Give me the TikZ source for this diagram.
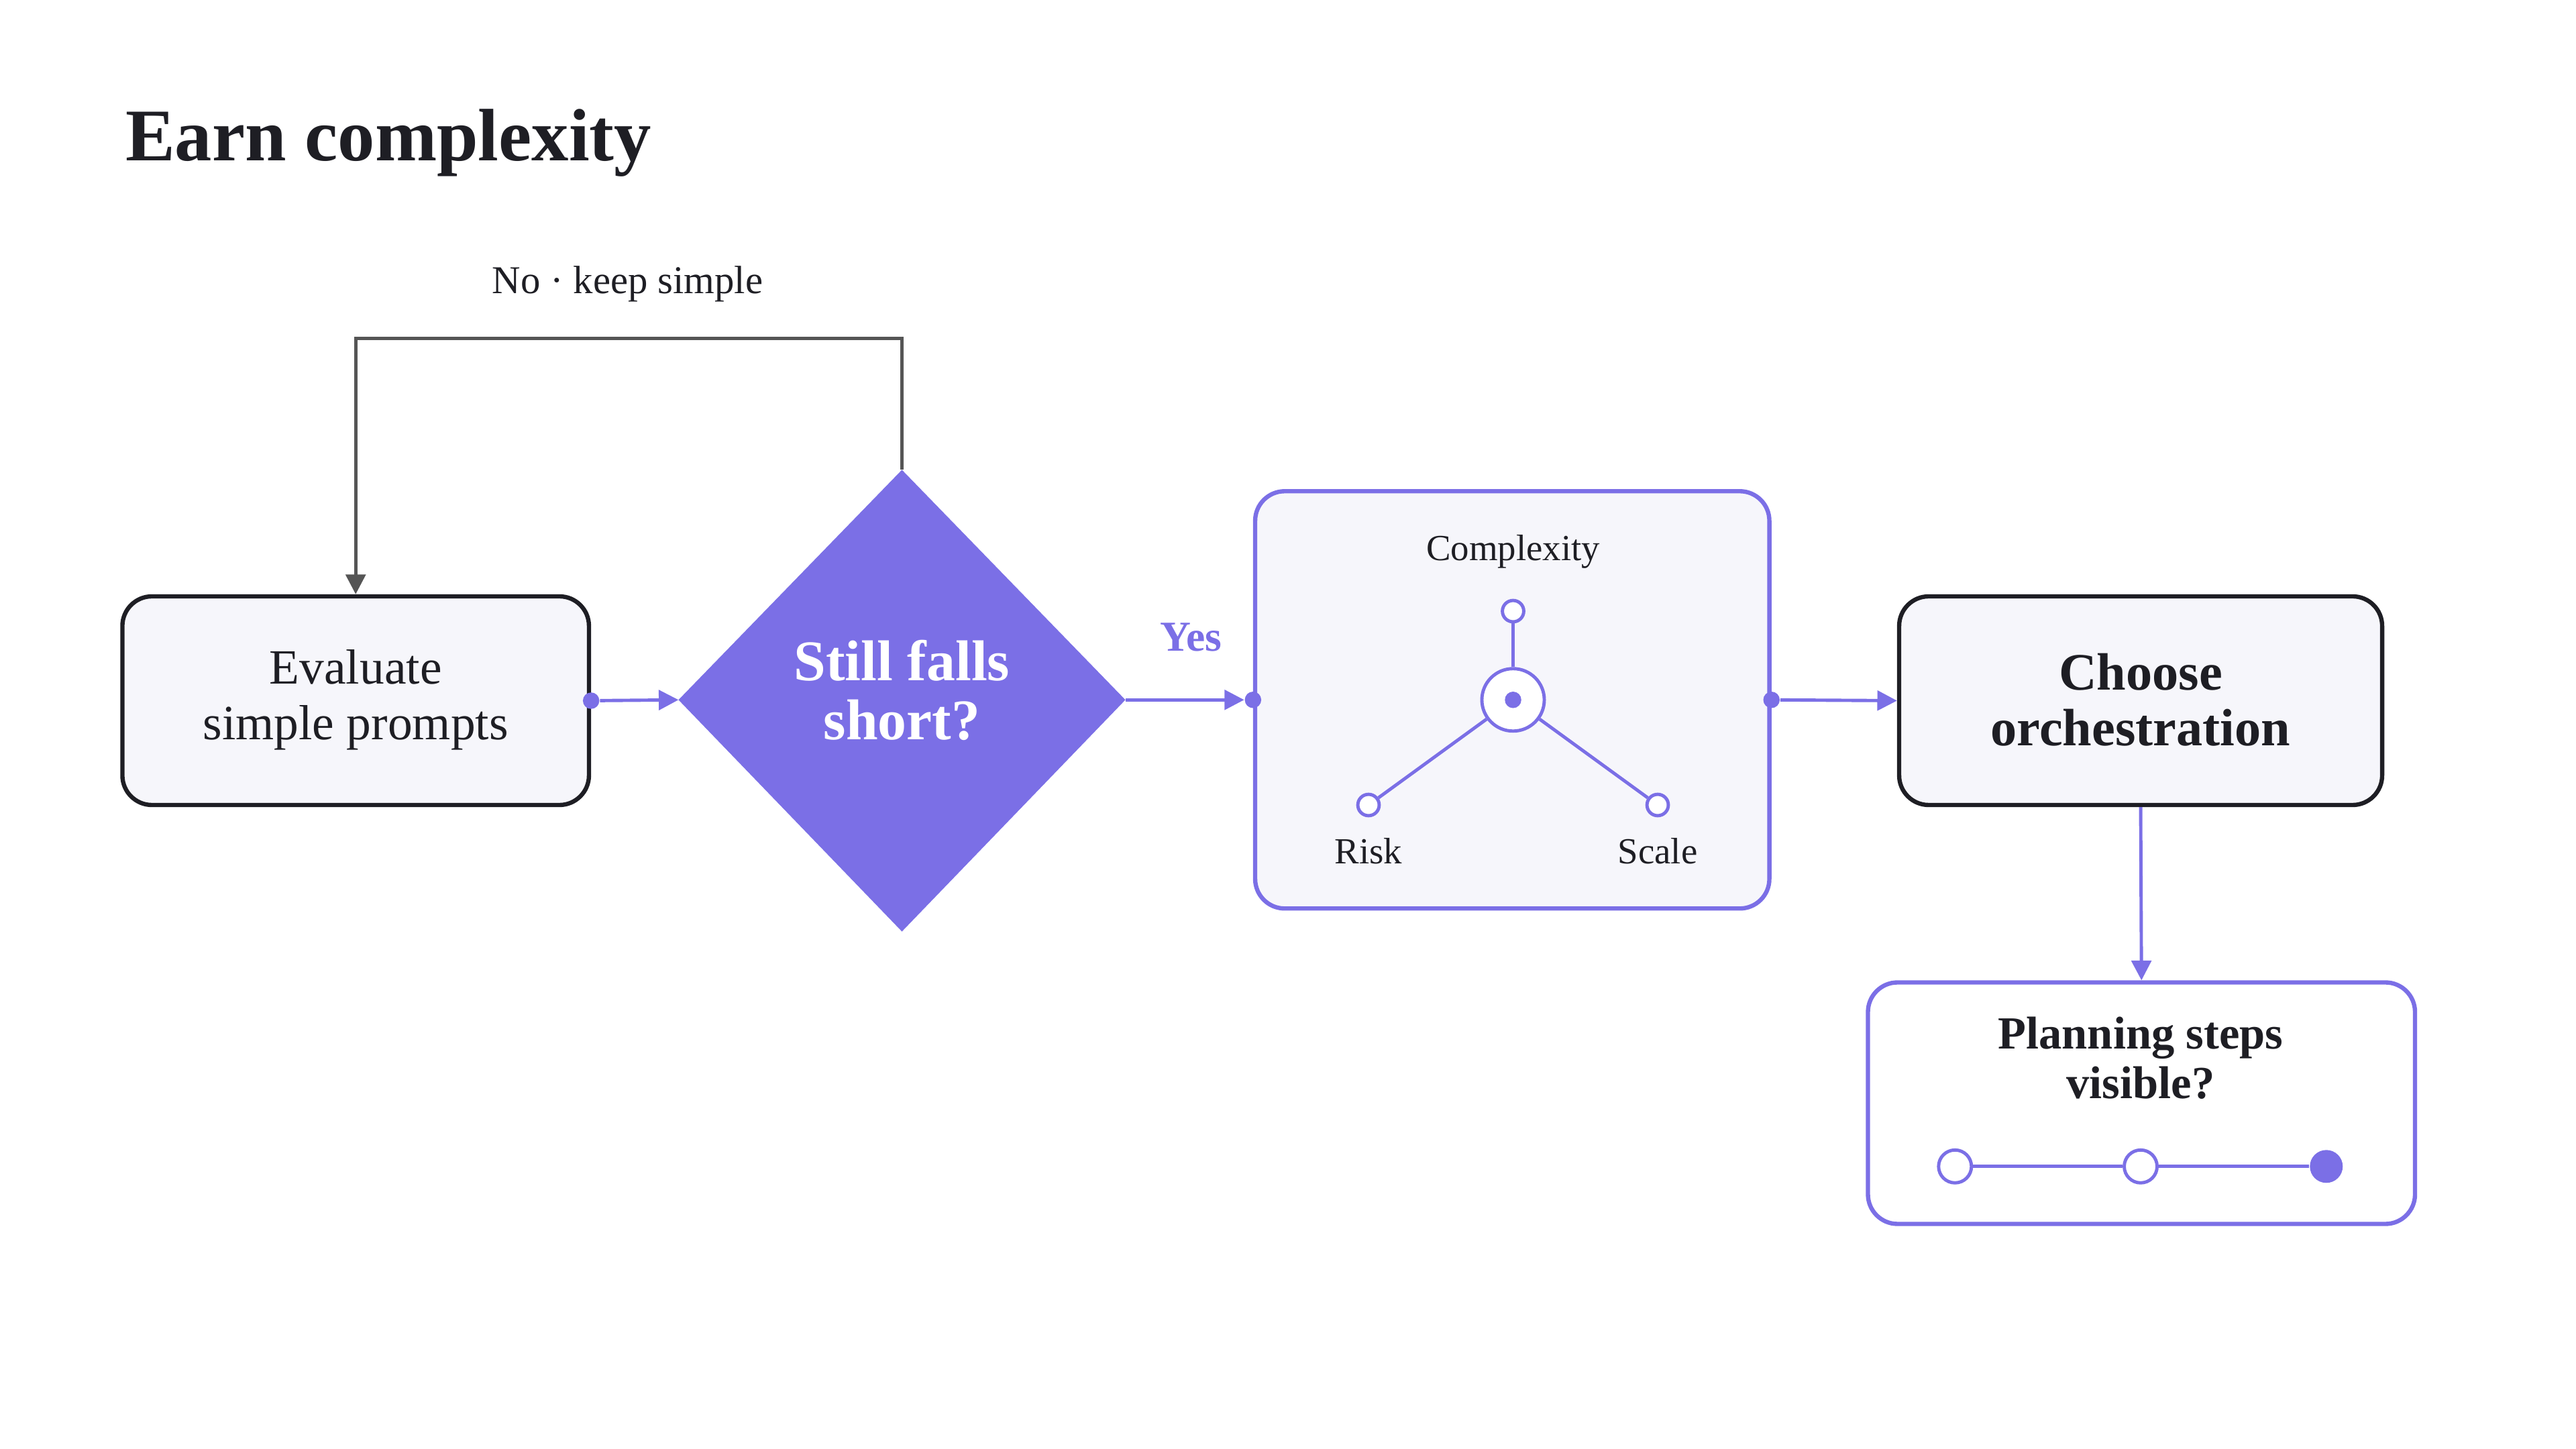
\documentclass[tikz,border=0pt]{standalone}
\usepackage{fontspec}
\setmainfont{Liberation Serif}
\usetikzlibrary{arrows.meta}
\definecolor{pur}{HTML}{7B6FE6}
\definecolor{pale}{HTML}{F6F6FB}
\definecolor{ink}{HTML}{1E1E24}
\definecolor{gry}{HTML}{555555}
\begin{document}
\begin{tikzpicture}[x=0.5pt,y=-0.5pt,
  box/.style={draw=ink,line width=1.3pt,rounded corners=9pt,fill=pale},
  pbox/.style={draw=pur,line width=1.3pt,rounded corners=9pt,fill=pale},
  txt/.style={font=\fontsize{15}{17}\selectfont,text=ink,align=center},
  btxt/.style={font=\fontsize{16}{17}\selectfont\bfseries,text=ink,align=center},
  pl/.style={draw=pur,line width=1pt},
  arr/.style={pl,-{Triangle[length=6pt,width=6pt]}},
  dot/.style={circle,fill=pur,inner sep=0,minimum size=5pt},
  hole/.style={circle,draw=pur,fill=white,line width=1pt,inner sep=0}]
\useasboundingbox (0,0) rectangle (1568,882);
\node[anchor=base west,font=\fontsize{22.6}{26}\selectfont\bfseries,text=ink,inner sep=0] (title) at (76,98) {Earn complexity};
% boxes
\node[box,minimum width=142pt,minimum height=63.5pt] (eval) at (216.5,426.5) {};
\node[txt] (evalt) at (216.5,426) {Evaluate\\simple prompts};
\fill[pur] (549,286) coordinate (dtop) -- (685,426) coordinate (dright) -- (549,567) -- (413,426) coordinate (dleft) -- cycle;
\node[font=\fontsize{17.5}{18}\selectfont\bfseries,text=white,align=center] (dt) at (549,420) {Still falls\\short?};
\node[pbox,minimum width=156.5pt,minimum height=127pt] (cx) at (920.5,426) {};
\node[box,minimum width=147pt,minimum height=63.5pt] (ch) at (1303,426.5) {};
\node[btxt] (cht) at (1303,426) {Choose\\orchestration};
\node[pbox,fill=white,minimum width=166.5pt,minimum height=73.5pt] (pl) at (1303.5,671.5) {};
\node[btxt,font=\fontsize{14}{15}\selectfont\bfseries] (plt) at (1303,644) {Planning steps\\visible?};
% eval -> diamond
\node[dot] (d1) at (eval.east) {};
\draw[arr] (d1) -- (dleft);
% loop
\coordinate (l1) at (549,206); \coordinate (l2) at (216.5,206);
\draw[gry,line width=1pt,-{Triangle[length=6pt,width=6pt]}] (dtop) -- (l1) -- (l2) -- (eval.north);
\node[txt,font=\fontsize{12}{13}\selectfont] (no) at (382,173) {No · keep simple};
% yes
\node[dot] (d2) at (cx.west) {};
\draw[arr] (dright) -- (d2);
\node[font=\fontsize{13}{14}\selectfont\bfseries,text=pur] (yes) at (725,388) {Yes};
% complexity
\node[txt,font=\fontsize{11.2}{12}\selectfont] (cxl) at (921,336) {Complexity};
\node[hole,minimum size=19pt] (cc) at (921,426) {};
\node[dot] (ccd) at (921,426) {};
\node[hole,minimum size=6.5pt] (ct) at (921,372) {};
\node[hole,minimum size=6.5pt] (cr) at (833,490) {};
\node[hole,minimum size=6.5pt] (cs) at (1009,490) {};
\draw[pl] (cc) -- (ct); \draw[pl] (cc) -- (cr); \draw[pl] (cc) -- (cs);
\node[txt,font=\fontsize{11.2}{12}\selectfont] (rl) at (833,518) {Risk};
\node[txt,font=\fontsize{11.2}{12}\selectfont] (sl) at (1009,518) {Scale};
% cx -> choose
\node[dot] (d3) at (cx.east) {};
\draw[arr] (d3) -- (ch.west);
\draw[arr] (ch.south) -- (pl.north);
% slider
\node[hole,minimum size=10pt] (s1) at (1190,710) {};
\node[hole,minimum size=10pt] (s2) at (1303,710) {};
\node[circle,fill=pur,inner sep=0,minimum size=10pt] (s3) at (1416,710) {};
\draw[pl] (s1) -- (s2); \draw[pl] (s2) -- (s3);
\end{tikzpicture}
\end{document}
